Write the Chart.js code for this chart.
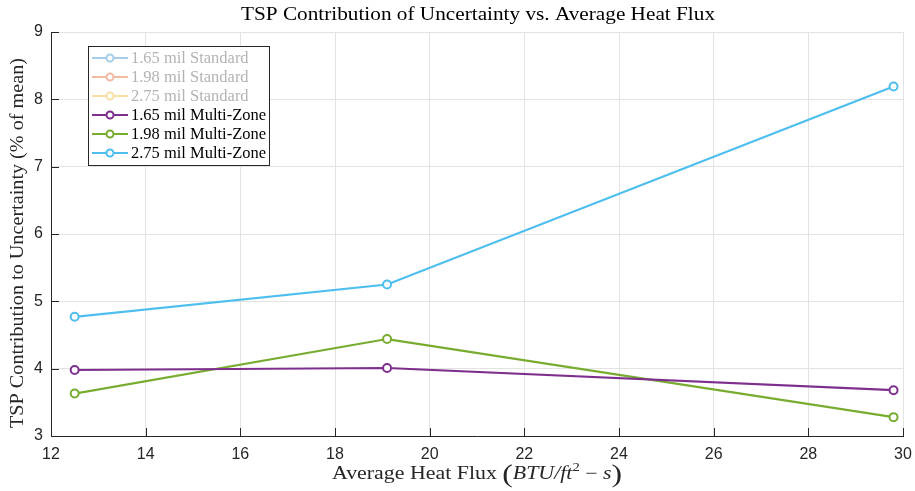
<!DOCTYPE html>
<html>
<head>
<meta charset="utf-8">
<script src="https://cdn.jsdelivr.net/npm/chart.js@4.4.0/dist/chart.umd.min.js"></script>
<style>
  html, body { margin: 0; padding: 0; background: #fff; }
  #wrap { width: 915px; height: 491px; }
</style>
</head>
<body>
<div id="wrap"><canvas id="tspChart"></canvas></div>
<script>
// data
const heatFlux = [12.5, 19.1, 29.8];
const std165 = [];
const std198 = [];
const std275 = [];
const mz165 = [3.98, 4.01, 3.68];
const mz198 = [3.63, 4.44, 3.28];
const mz275 = [4.77, 5.25, 8.19];
const xTicks = [12, 14, 16, 18, 20, 22, 24, 26, 28, 30];
const yTicks = [3, 4, 5, 6, 7, 8, 9];

const seriesLabels = ['1.65 mil Standard', '1.98 mil Standard', '2.75 mil Standard',
  '1.65 mil Multi-Zone', '1.98 mil Multi-Zone', '2.75 mil Multi-Zone'];
const seriesColors = ['#0072BD', '#D95319', '#EDB120', '#7E2F8E', '#77AC30', '#4DBEEE'];
const seriesData = [std165, std198, std275, mz165, mz198, mz275];
const fadedColors = ['#a6cee8', '#f2b9a3', '#f9dfa6'];

const axisColor = '#262626';
const serif = '"Liberation Serif", "DejaVu Serif", serif';
const tickFont = '"Liberation Sans", Arial, sans-serif';

function toPoints(ys) {
  return ys.map((y, i) => ({ x: heatFlux[i], y: y }));
}

const datasets = seriesData.map((ys, i) => ({
  label: seriesLabels[i],
  data: toPoints(ys),
  borderColor: seriesColors[i],
  backgroundColor: '#ffffff',
  borderWidth: 2.2,
  pointRadius: 4,
  pointBorderWidth: 2,
  pointHoverRadius: 4,
  tension: 0,
  fill: false
}));

// draw text stretched sideways so the serif face takes the width of the LaTeX one
function fitText(ctx, text, font, x, y, targetW) {
  ctx.font = font;
  const w = ctx.measureText(text).width;
  const k = targetW / w;
  ctx.save();
  ctx.translate(x, y);
  ctx.scale(k, 1);
  ctx.fillText(text, 0, 0);
  ctx.restore();
}

// MATLAB style inward ticks
const innerTicks = {
  id: 'innerTicks',
  afterDatasetsDraw(chart) {
    const { ctx, chartArea, scales } = chart;
    ctx.save();
    ctx.strokeStyle = axisColor;
    ctx.lineWidth = 1;
    ctx.beginPath();
    xTicks.forEach(v => {
      const px = Math.round(scales.x.getPixelForValue(v)) + 0.5;
      ctx.moveTo(px, chartArea.bottom);
      ctx.lineTo(px, chartArea.bottom - 8);
    });
    yTicks.forEach(v => {
      const py = Math.round(scales.y.getPixelForValue(v)) + 0.5;
      ctx.moveTo(chartArea.left, py);
      ctx.lineTo(chartArea.left + 8, py);
    });
    ctx.stroke();
    ctx.restore();
  }
};

// titles and legend box
const textBits = {
  id: 'textBits',
  afterDraw(chart) {
    const { ctx, chartArea } = chart;
    ctx.save();
    ctx.fillStyle = '#000';
    ctx.textBaseline = 'middle';
    ctx.textAlign = 'center';

    // title
    fitText(ctx, 'TSP Contribution of Uncertainty vs. Average Heat Flux', '19px ' + serif, 478, 15, 474);

    // y title
    ctx.save();
    ctx.translate(18, 243);
    ctx.rotate(-Math.PI / 2);
    ctx.fillStyle = axisColor;
    fitText(ctx, 'TSP Contribution to Uncertainty (% of mean)', '18px ' + serif, 0, 0, 370);
    ctx.restore();

    // x title with math part
    const parts = [
      { t: 'Average Heat Flux ', f: '18px ' + serif, dy: 0 },
      { t: '(', f: '26px ' + serif, dy: 1 },
      { t: 'BTU/ft', f: 'italic 18px ' + serif, dy: 0 },
      { t: '2', f: '12px ' + serif, dy: -6 },
      { t: ' \u2212 ', f: '18px ' + serif, dy: 0 },
      { t: 's', f: 'italic 18px ' + serif, dy: 0 },
      { t: ')', f: '26px ' + serif, dy: 1 }
    ];
    let total = 0;
    parts.forEach(p => { ctx.font = p.f; p.w = ctx.measureText(p.t).width; total += p.w; });
    const k = 290 / total;
    ctx.save();
    ctx.translate(477 - 145, 474);
    ctx.scale(k, 1);
    ctx.textAlign = 'left';
    ctx.fillStyle = axisColor;
    let x = 0;
    parts.forEach(p => {
      ctx.font = p.f;
      ctx.fillText(p.t, x, p.dy);
      x += p.w;
    });
    ctx.restore();

    // legend
    const lx = 88, ly = 46, lw = 181, lh = 119;
    ctx.fillStyle = '#fff';
    ctx.fillRect(lx, ly, lw, lh);
    ctx.strokeStyle = axisColor;
    ctx.lineWidth = 1;
    ctx.strokeRect(lx + 0.5, ly + 0.5, lw, lh);
    ctx.font = '16px ' + serif;
    const legK = 135 / ctx.measureText('1.65 mil Multi-Zone').width;
    ctx.textAlign = 'left';
    seriesLabels.forEach((lab, i) => {
      const y = 58 + i * 19;
      const col = i < 3 ? fadedColors[i] : seriesColors[i];
      ctx.strokeStyle = col;
      ctx.lineWidth = 2;
      ctx.beginPath();
      ctx.moveTo(92, y);
      ctx.lineTo(128, y);
      ctx.stroke();
      ctx.fillStyle = '#fff';
      ctx.beginPath();
      ctx.arc(110, y, 3.5, 0, Math.PI * 2);
      ctx.fill();
      ctx.stroke();
      ctx.fillStyle = i < 3 ? '#b3b3b3' : '#000';
      ctx.font = '16px ' + serif;
      const w = ctx.measureText(lab).width;
      fitText(ctx, lab, '16px ' + serif, 131, y + 1, w * legK);
    });
    ctx.restore();
  }
};

const ctx = document.getElementById('tspChart').getContext('2d');
const tspChart = new Chart(ctx, {
  type: 'line',
  data: { datasets: datasets },
  options: {
    responsive: true,
    maintainAspectRatio: false,
    animation: false,
    layout: { padding: { top: 32, right: 0, left: 0, bottom: 0 } },
    plugins: {
      legend: { display: false },
      title: { display: false },
      tooltip: { enabled: false }
    },
    scales: {
      x: {
        type: 'linear',
        min: 12,
        max: 30,
        afterFit(scale) {
          scale.height = 55;
          scale.paddingRight = 12;
          scale.paddingLeft = 0;
        },
        afterBuildTicks(scale) { scale.ticks = xTicks.map(v => ({ value: v })); },
        grid: { color: '#e3e3e3', drawTicks: false },
        border: { color: axisColor, width: 1 },
        ticks: {
          color: axisColor,
          padding: 9,
          maxRotation: 0,
          font: { family: tickFont, size: 16 }
        }
      },
      y: {
        type: 'linear',
        min: 3,
        max: 9,
        afterFit(scale) { scale.width = 51; },
        afterBuildTicks(scale) { scale.ticks = yTicks.map(v => ({ value: v })); },
        grid: { color: '#e3e3e3', drawTicks: false },
        border: { color: axisColor, width: 1 },
        ticks: {
          color: axisColor,
          padding: 8,
          font: { family: tickFont, size: 16 }
        }
      }
    }
  },
  plugins: [innerTicks, textBits]
});
</script>
</body>
</html>
